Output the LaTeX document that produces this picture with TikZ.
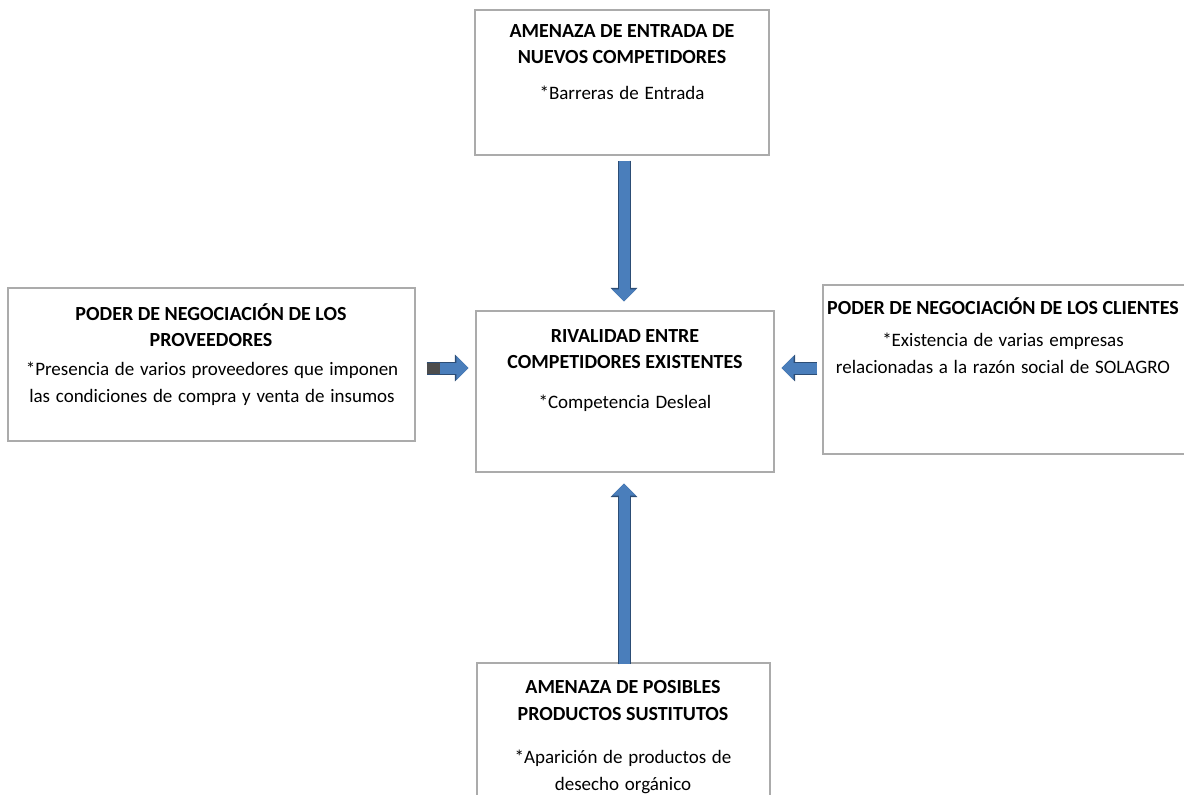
\documentclass[tikz,border=0pt]{standalone}
\usepackage{fontspec}
\setmainfont{Carlito}
\usetikzlibrary{arrows.meta,calc}
\definecolor{arrowblue}{HTML}{4A7EBB}
\definecolor{arrowdark}{HTML}{2C4D75}
\definecolor{boxline}{HTML}{ABABAB}
% slightly wider word spaces for the description lines
\newcommand{\bodyfont}{\fontsize{19}{27}\selectfont\spaceskip=0.3em plus 0.1em\relax}
\begin{document}
\begin{tikzpicture}[x=1pt,y=-1pt,
  forcebox/.style={draw=boxline, line width=1.2pt, fill=white, inner sep=0pt},
  title/.style={align=center, font=\fontsize{20}{26.5}\selectfont\bfseries, inner sep=0pt},
  body/.style={align=center, font=\bodyfont, inner sep=0pt},
  blk/.style={line width=11pt, draw=arrowblue, -{Triangle[width=23pt,length=12pt]},
    preaction={draw=arrowdark, line width=13pt, -{Triangle[width=26pt,length=13.5pt]}}}
]
\useasboundingbox (0,0) rectangle (1184,795);
\clip (0,0) rectangle (1184,795);

% the five forces
\node[forcebox, minimum width=294pt, minimum height=145pt] (top) at (622,82.5) {};
\node[forcebox, minimum width=407pt, minimum height=153pt] (left) at (211.5,364.5) {};
\node[forcebox, minimum width=298pt, minimum height=161pt] (ctr) at (625,391.5) {};
\node[forcebox, minimum width=367pt, minimum height=169pt] (right) at (1006.5,369.5) {};
\node[forcebox, minimum width=293pt, minimum height=137pt] (bottom) at (623.5,731.5) {};

% texts
\node[title] (topT) at (622,44) {AMENAZA DE ENTRADA DE\\NUEVOS COMPETIDORES};
\node[body] (topB) at (622,93) {*Barreras de Entrada};

\node[title] (leftT) at (211,325) {PODER DE NEGOCIACIÓN DE LOS\\PROVEEDORES};
\node[body] (leftB) at (212,384) {*Presencia de varios proveedores que imponen\\las condiciones de compra y venta de insumos};

\node[title] (ctrT) at (625,349) {RIVALIDAD ENTRE\\COMPETIDORES EXISTENTES};
\node[body] (ctrB) at (625,403) {*Competencia Desleal};

\node[title] (rightT) at (1003,306) {PODER DE NEGOCIACIÓN DE LOS CLIENTES};
\node[body] (rightB) at (1003,353) {*Existencia de varias empresas\\relacionadas a la razón social de SOLAGRO};

\node[title] (bottomT) at (623,700.5) {AMENAZA DE POSIBLES\\PRODUCTOS SUSTITUTOS};
\node[body] (bottomB) at (623,772) {*Aparición de productos de\\desecho orgánico};

% arrows towards the rivalry box
\draw[blk] ([xshift=2pt,yshift=-5pt]top.south) -- ([xshift=-1pt,yshift=9pt]ctr.north);
\draw[blk] ([xshift=0.5pt,yshift=-2pt]bottom.north) -- ([xshift=-1pt,yshift=-11pt]ctr.south);
\draw[blk] ([xshift=11pt,yshift=-3.5pt]left.east) -- ([xshift=-7pt,yshift=23.5pt]ctr.west);
\draw[line width=11pt, draw=gray!60!black] ([xshift=11pt,yshift=-3.5pt]left.east) -- ([xshift=24pt,yshift=-3.5pt]left.east);
\draw[blk] ([xshift=-5pt,yshift=1.5pt]right.west) -- ([xshift=7pt,yshift=23.5pt]ctr.east);
\end{tikzpicture}
\end{document}
